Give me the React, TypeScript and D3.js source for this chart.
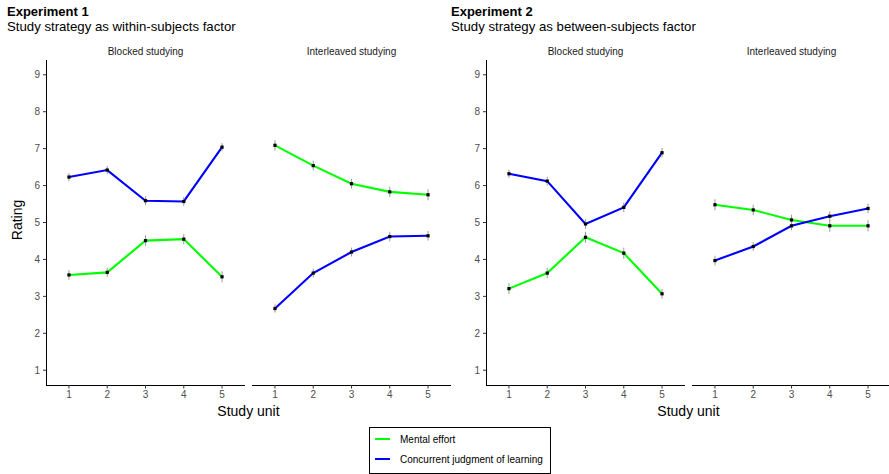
import React from 'react';
import * as d3 from 'd3';

// study units on the x axis
const units = [1, 2, 3, 4, 5];
const yTicks = [1, 2, 3, 4, 5, 6, 7, 8, 9];

// Experiment 1 (within-subjects)
const exp1BlockedEffort = [3.58, 3.65, 4.51, 4.55, 3.53];
const exp1BlockedEffortSe = [0.13, 0.12, 0.14, 0.14, 0.15];
const exp1BlockedJol = [6.23, 6.42, 5.59, 5.57, 7.04];
const exp1BlockedJolSe = [0.11, 0.11, 0.12, 0.12, 0.11];
const exp1InterEffort = [7.09, 6.54, 6.05, 5.83, 5.75];
const exp1InterEffortSe = [0.14, 0.13, 0.13, 0.14, 0.15];
const exp1InterJol = [2.67, 3.63, 4.2, 4.62, 4.64];
const exp1InterJolSe = [0.11, 0.12, 0.12, 0.13, 0.13];

// Experiment 2 (between-subjects)
const exp2BlockedEffort = [3.21, 3.63, 4.6, 4.17, 3.07];
const exp2BlockedEffortSe = [0.15, 0.14, 0.15, 0.15, 0.13];
const exp2BlockedJol = [6.32, 6.12, 4.96, 5.41, 6.89];
const exp2BlockedJolSe = [0.11, 0.12, 0.13, 0.13, 0.13];
const exp2InterEffort = [5.48, 5.34, 5.07, 4.91, 4.91];
const exp2InterEffortSe = [0.15, 0.14, 0.14, 0.16, 0.15];
const exp2InterJol = [3.97, 4.35, 4.91, 5.17, 5.38];
const exp2InterJolSe = [0.13, 0.12, 0.12, 0.13, 0.13];

const seriesNames = ['Mental effort', 'Concurrent judgment of learning'];
const seriesColors = ['#00ff00', '#0000ff'];

const FONT = '"Liberation Sans", Arial, sans-serif';

const yScale = d3.scaleLinear().domain([0.6, 9.4]).range([385, 60]);

type Panel = {
  x0: number;
  x1: number;
  label: string;
  effort: number[];
  effortSe: number[];
  jol: number[];
  jolSe: number[];
  yAxis: boolean;
};

const FacetPanel = ({ p }: { p: Panel }) => {
  const x = d3.scaleLinear().domain([0.4, 5.6]).range([p.x0, p.x1]);
  const line = d3
    .line<number>()
    .x((_, i) => x(units[i]))
    .y((d) => yScale(d));
  const series = [
    { vals: p.effort, se: p.effortSe, color: seriesColors[0] },
    { vals: p.jol, se: p.jolSe, color: seriesColors[1] },
  ];
  return (
    <g>
      <text x={(p.x0 + p.x1) / 2} y={55} textAnchor="middle" fontSize={10} fill="#1a1a1a">
        {p.label}
      </text>
      {series.map((s, k) => (
        <path key={'l' + k} d={line(s.vals) || ''} fill="none" stroke={s.color} strokeWidth={2.1} />
      ))}
      {series.map((s, k) =>
        s.vals.map((v, i) => (
          <line
            key={'e' + k + i}
            x1={x(units[i])}
            x2={x(units[i])}
            y1={yScale(v - s.se[i])}
            y2={yScale(v + s.se[i])}
            stroke="#9a9a9a"
            strokeWidth={1}
          />
        ))
      )}
      {series.map((s, k) =>
        s.vals.map((v, i) => (
          <rect key={'p' + k + i} x={x(units[i]) - 1.6} y={yScale(v) - 1.6} width={3.2} height={3.2} fill="#000" />
        ))
      )}
      {/* x axis */}
      <line x1={p.x0} x2={p.x1} y1={385.5} y2={385.5} stroke="#000" strokeWidth={1} />
      {units.map((u) => (
        <g key={'xt' + u}>
          <line x1={x(u)} x2={x(u)} y1={385} y2={388.5} stroke="#333" strokeWidth={1} />
          <text x={x(u)} y={398} textAnchor="middle" fontSize={10} fill="#4d4d4d">
            {u}
          </text>
        </g>
      ))}
      {p.yAxis && (
        <g>
          <line x1={p.x0 + 0.5} x2={p.x0 + 0.5} y1={60} y2={386} stroke="#000" strokeWidth={1} />
          {yTicks.map((t) => (
            <g key={'yt' + t}>
              <line x1={p.x0 - 3} x2={p.x0} y1={yScale(t)} y2={yScale(t)} stroke="#333" strokeWidth={1} />
              <text x={p.x0 - 6} y={yScale(t)} dy="0.35em" textAnchor="end" fontSize={10} fill="#4d4d4d">
                {t}
              </text>
            </g>
          ))}
        </g>
      )}
    </g>
  );
};

const panels: Panel[] = [
  { x0: 46, x1: 245, label: 'Blocked studying', effort: exp1BlockedEffort, effortSe: exp1BlockedEffortSe, jol: exp1BlockedJol, jolSe: exp1BlockedJolSe, yAxis: true },
  { x0: 252, x1: 451, label: 'Interleaved studying', effort: exp1InterEffort, effortSe: exp1InterEffortSe, jol: exp1InterJol, jolSe: exp1InterJolSe, yAxis: false },
  { x0: 486, x1: 685, label: 'Blocked studying', effort: exp2BlockedEffort, effortSe: exp2BlockedEffortSe, jol: exp2BlockedJol, jolSe: exp2BlockedJolSe, yAxis: true },
  { x0: 692, x1: 891, label: 'Interleaved studying', effort: exp2InterEffort, effortSe: exp2InterEffortSe, jol: exp2InterJol, jolSe: exp2InterJolSe, yAxis: false },
];

export default function App() {
  return (
    <svg
      width={889}
      height={474}
      style={{ position: 'absolute', left: 0, top: 0, background: '#fff' }}
      fontFamily={FONT}
    >
      <rect width={889} height={474} fill="#fff" />
      {/* titles */}
      <text x={7} y={16} fontSize={13} fontWeight="bold">Experiment 1</text>
      <text x={7} y={31} fontSize={13.2}>Study strategy as within-subjects factor</text>
      <text x={451} y={16} fontSize={13} fontWeight="bold">Experiment 2</text>
      <text x={451} y={31} fontSize={13.2}>Study strategy as between-subjects factor</text>

      {panels.map((p, i) => (
        <FacetPanel key={i} p={p} />
      ))}

      <text transform="translate(17.5,220) rotate(-90)" textAnchor="middle" dy="0.35em" fontSize={14}>
        Rating
      </text>
      <text x={248.5} y={416} textAnchor="middle" fontSize={14}>Study unit</text>
      <text x={688.5} y={416} textAnchor="middle" fontSize={14}>Study unit</text>

      {/* legend */}
      <rect x={369.5} y={427.5} width={181} height={46} fill="#fff" stroke="#000" strokeWidth={1} />
      {seriesNames.map((n, i) => (
        <g key={n}>
          <line x1={375} x2={390} y1={439 + i * 20} y2={439 + i * 20} stroke={seriesColors[i]} strokeWidth={2} />
          <text x={400} y={439 + i * 20} dy="0.35em" fontSize={10}>
            {n}
          </text>
        </g>
      ))}
    </svg>
  );
}
